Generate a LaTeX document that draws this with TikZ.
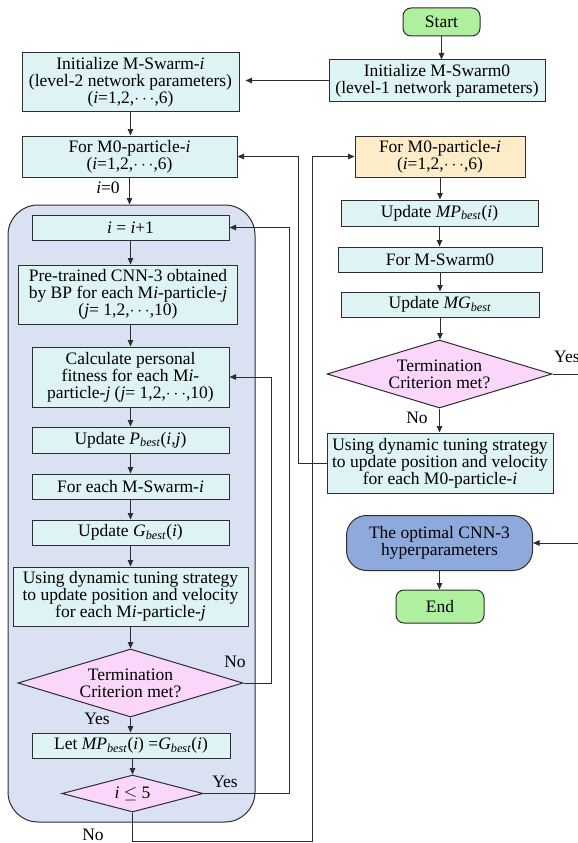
\documentclass[tikz,border=0pt]{standalone}
\usepackage{fontspec}
\setmainfont{Liberation Serif}
\usetikzlibrary{shapes.geometric,arrows.meta,calc}
\definecolor{boxc}{RGB}{222,243,243}
\definecolor{yelc}{RGB}{253,236,200}
\definecolor{pinkc}{RGB}{250,214,250}
\definecolor{regc}{RGB}{217,225,242}
\definecolor{optc}{RGB}{142,169,219}
\definecolor{grnc}{RGB}{174,240,158}
\definecolor{linec}{RGB}{45,45,45}
\newcommand{\ii}{\textit{i}}
\newcommand{\bst}{\textsubscript{\textit{best}}}
\newcommand{\rng}{(\textit{i}=1,2,$\cdots$,6)}
\begin{document}
\begin{tikzpicture}[x=1pt,y=-1pt, font=\fontsize{17.5}{17.2}\selectfont,
 box/.style={draw=linec, fill=boxc, line width=1pt, inner sep=0pt, align=center},
 dia/.style={diamond, draw=linec, fill=pinkc, line width=1pt, inner sep=0pt},
 term/.style={draw=linec, fill=grnc, line width=1pt, rounded corners=8pt, inner sep=0pt},
 arr/.style={draw=linec, line width=1pt, -{Triangle[length=6.5pt,width=5.5pt]}},
 lbl/.style={inner sep=0pt}]
\useasboundingbox (0,0) rectangle (578,843);
% region
\node[draw=linec, fill=regc, line width=1pt, rounded corners=30pt, minimum width=247pt, minimum height=617pt, inner sep=0pt] (reg) at (131.5,513.5) {};
% top
\node[term, minimum width=77pt, minimum height=28pt] (start) at (441.5,22) {Start};
\node[box, minimum width=216pt, minimum height=41pt] (init0) at (437,80.5) {Initialize M-Swarm0\\(level-1 network parameters)};
\node[box, minimum width=217pt, minimum height=58pt] (initi) at (130.5,82) {Initialize M-Swarm-\ii\\(level-2 network parameters)\\\rng};
\node[box, minimum width=215pt, minimum height=41pt] (forL) at (129.5,156.5) {For M0-particle-\ii\\\rng};
\node[box, fill=yelc, minimum width=170pt, minimum height=41pt] (forR) at (440,156.5) {For M0-particle-\ii\\\rng};
% left inner
\node[box, minimum width=197pt, minimum height=25pt] (inc) at (130.5,227.5) {\ii{} = \ii+1};
\node[box, minimum width=219pt, minimum height=59pt] (pre) at (128,294.5) {Pre-trained CNN-3 obtained\\by BP for each M\ii-particle-\textit{j}\\(\textit{j}= 1,2,$\cdots$,10)};
\node[box, minimum width=197pt, minimum height=60pt] (calc) at (130.5,377) {Calculate personal\\fitness for each M\ii-\\particle-\textit{j} (\textit{j}= 1,2,$\cdots$,10)};
\node[box, minimum width=197pt, minimum height=26pt] (upP) at (130.5,440) {Update \textit{P}\bst(\ii,\textit{j})};
\node[box, minimum width=197pt, minimum height=25pt] (each) at (130.5,486.5) {For each M-Swarm-\ii};
\node[box, minimum width=197pt, minimum height=25pt] (upG) at (130.5,532.5) {Update \textit{G}\bst(\ii)};
\node[box, minimum width=235pt, minimum height=59pt] (dynL) at (130.5,596.5) {Using dynamic tuning strategy\\to update position and velocity\\for each M\ii-particle-\textit{j}};
\node[dia, minimum width=225pt, minimum height=68pt, label={[align=center,name=termLt]center:Termination\\Criterion met?}] (termL) at (130.5,683) {};
\node[box, minimum width=198pt, minimum height=25pt] (letM) at (131,745.5) {Let \textit{MP}\bst(\ii) =\textit{G}\bst(\ii)};
\node[dia, minimum width=141pt, minimum height=37pt, label={[name=le5t]center:\ii{} $\leq$ 5}] (le5) at (132.5,793.5) {};
% right column
\node[box, minimum width=197pt, minimum height=26pt] (upMP) at (439.5,213) {Update \textit{MP}\bst(\ii)};
\node[box, minimum width=204pt, minimum height=25pt] (forS0) at (440,259.5) {For M-Swarm0};
\node[box, minimum width=198pt, minimum height=25pt] (upMG) at (440,304.5) {Update \textit{MG}\bst};
\node[dia, minimum width=225pt, minimum height=68pt, label={[align=center,name=termRt]center:Termination\\Criterion met?}] (termR) at (439.5,374) {};
\node[box, minimum width=226pt, minimum height=60pt] (dynR) at (440,463) {Using dynamic tuning strategy\\to update position and velocity\\for each M0-particle-\ii};
\node[box, fill=optc, rounded corners=20pt, minimum width=186pt, minimum height=55pt] (opt) at (439.5,543) {The optimal CNN-3\\hyperparameters};
\node[term, minimum width=88pt, minimum height=33pt] (end) at (440,606.5) {End};
% labels
\node[lbl] (l0) at (108,188) {\ii=0};
\node[lbl] (lyes1) at (97,719) {Yes};
\node[lbl] (lno1) at (235,662) {No};
\node[lbl] (lyes2) at (225,782) {Yes};
\node[lbl] (lno2) at (93,835) {No};
\node[lbl] (lno3) at (417,418) {No};
\node[lbl, anchor=west] (lyes3) at (554,357) {Yes};
% connectors
\draw[arr] (start.south) -- (start.south |- init0.north);
\draw[arr, shorten >=6pt] (init0.west) -- (init0.west -| initi.east);
\draw[arr] (initi.south) -- (initi.south |- forL.north);
\draw[arr] (forL.south) -- (forL.south |- reg.north);
\draw[arr] (inc.south) -- (inc.south |- pre.north);
\draw[arr] (calc.north |- pre.south) -- (calc.north);
\draw[arr] (calc.south) -- (upP.north);
\draw[arr] (upP.south) -- (each.north);
\draw[arr] (each.south) -- (upG.north);
\draw[arr] (upG.south) -- (dynL.north);
\draw[arr] (dynL.south) -- (termL.north);
\draw[arr] (termL.south) -- (termL.south |- letM.north);
\draw[arr] (le5.north |- letM.south) -- (le5.north);
\draw[arr] (termL.east) -| ($(calc.east)+(42,0)$) -- (calc.east);
\draw[arr] (le5.east) -| ($(inc.east)+(60,0)$) -- (inc.east);
\coordinate (cb) at (312,841);
\draw[arr] (le5.south) |- (cb) |- (forR.west);
\draw[arr] (dynR.west) -| ($(forL.east)+(61,0)$) -- (forL.east);
\draw[arr] (forR.south) -- (forR.south |- upMP.north);
\draw[arr] (upMP.south) -- (upMP.south |- forS0.north);
\draw[arr] (forS0.south) -- (forS0.south |- upMG.north);
\draw[arr] (upMG.south) -- (upMG.south |- termR.north);
\draw[arr] (termR.south) -- (termR.south |- dynR.north);
\draw[arr] (termR.east) -- ++(50,0) |- (opt.east);
\draw[arr] (opt.south) -- (opt.south |- end.north);
\end{tikzpicture}
\end{document}
